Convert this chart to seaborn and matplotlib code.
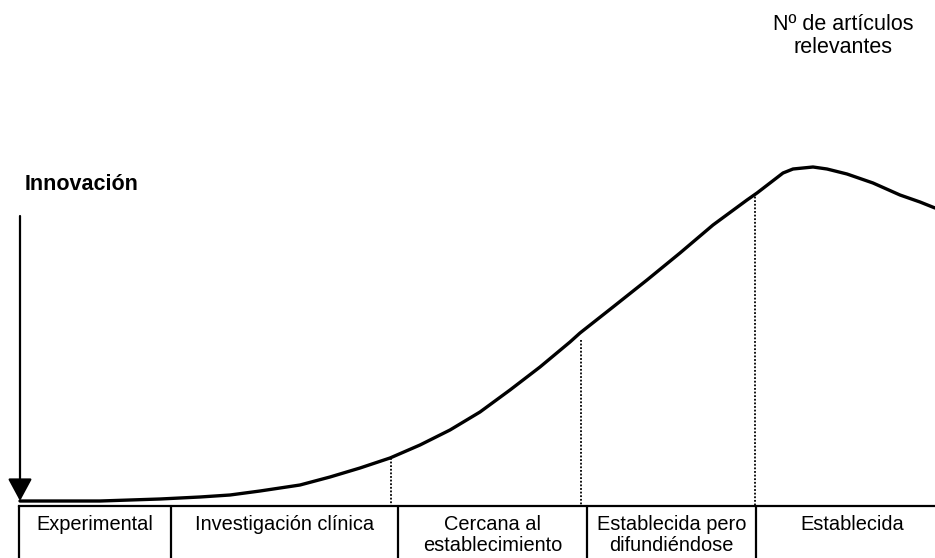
import matplotlib
matplotlib.use("Agg")
import matplotlib.pyplot as plt
import numpy as np
import pandas as pd
import seaborn as sns

# curve (time on x, relevant articles on y)
time = [0, 40, 80, 110, 140, 180, 210, 240, 280, 310, 340, 370, 400, 430,
        460, 490, 520, 550, 560, 593, 627, 660, 693, 727, 737, 750, 763,
        773, 793, 807, 827, 853, 880, 900, 915]
articles = [0, 0, 0, 1, 2, 4, 6, 10, 16, 24, 33, 43, 56, 71, 89, 111, 134,
            159, 168, 194, 221, 248, 276, 301, 308, 318, 328, 332, 334, 332,
            327, 318, 306, 299, 293]

stage_edges = [-1, 151, 378, 567, 736, 928]
stage_labels = ["Experimental", "Investigación clínica",
                "Cercana al\nestablecimiento", "Establecida pero\ndifundiéndose",
                "Establecida"]
stage_marks_x = [371, 561, 735]
stage_marks_y = [43, 161, 308]


def main():
    sns.set_theme(style="white")
    plt.rcParams['font.family'] = ['Liberation Sans', 'DejaVu Sans']
    plt.rcParams['text.color'] = 'black'

    fig = plt.figure(figsize=(9.35, 5.58), dpi=100)
    ax = fig.add_axes([0, 0, 1, 1])

    df = pd.DataFrame({"time": time, "articles": articles})
    sns.lineplot(x="time", y="articles", data=df, color="black",
                 linewidth=2.4, ax=ax, sort=False)
    ax.lines[0].set_solid_joinstyle("round")

    # dotted stage markers down to the table
    box_top = -5
    for x, y in zip(stage_marks_x, stage_marks_y):
        ax.plot([x, x], [y, box_top], color="black", linestyle=(0, (1, 1)),
                linewidth=1.3)

    # stage table
    ax.plot([stage_edges[0], stage_edges[-1]], [box_top, box_top],
            color="black", linewidth=1.6, solid_capstyle="projecting")
    for x in stage_edges:
        ax.plot([x, x], [box_top, -80], color="black", linewidth=1.6)
    for i, lab in enumerate(stage_labels):
        cx = (stage_edges[i] + stage_edges[i + 1]) / 2
        ax.text(cx, -14, lab, ha="center", va="top", fontsize=14.4,
                linespacing=1.12, color="black")

    # innovation arrow
    ax.annotate("", xy=(0, 0), xytext=(0, 285),
                arrowprops=dict(arrowstyle="-|>,head_length=1.15,head_width=0.62",
                                color="black", lw=1.6, shrinkA=0, shrinkB=0))
    ax.text(5, 317, "Innovación", ha="left", va="center", fontsize=15.5,
            fontweight="bold", color="black")

    ax.text(823, 465, "Nº de artículos\nrelevantes", ha="center",
            va="center", fontsize=15.5, linespacing=1.15, color="black")

    ax.set_xlim(-20, 915)
    ax.set_ylim(-57, 501)
    ax.set_axis_off()

    plt.savefig("out.png", dpi=100)
    plt.close()


if __name__ == '__main__':
    main()
